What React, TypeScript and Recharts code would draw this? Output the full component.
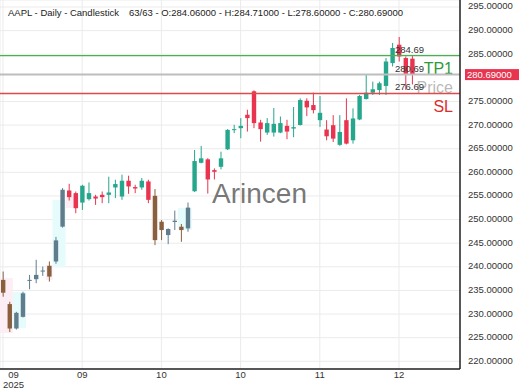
import { ComposedChart, Bar, XAxis, YAxis, CartesianGrid, ReferenceLine, ReferenceArea } from 'recharts';

const opens = [
  237.23, 232.11, 226.94, 229.41, 237.02, 237.38, 239.0, 240.21, 241.13, 248.5,
  256.16, 255.6, 253.6, 254.32, 254.88, 255.24, 255.24, 256.8, 254.88, 258.22,
  256.88, 256.8, 258.07, 255.03, 249.55, 246.72, 249.49, 248.49, 248.14, 256.0,
  262.02, 262.75, 260.47, 261.17, 264.88, 268.93, 269.35, 272.19, 277.15, 270.55,
  268.42, 268.42, 268.42, 269.84, 269.27, 270.02, 275.15, 274.24, 271.04, 269.06,
  269.98, 265.82, 271.04, 266.78, 271.19, 275.52, 276.86, 277.43, 278.29, 283.12,
  287.02, 284.19, 284.06,
];
const highs = [
  239.0, 232.6, 230.47, 234.73, 238.29, 241.49, 240.06, 241.13, 246.33, 256.67,
  257.58, 255.94, 257.37, 257.86, 255.24, 255.94, 259.08, 258.44, 259.5, 259.29,
  257.37, 258.8, 258.44, 256.45, 249.91, 248.14, 251.9, 249.06, 253.6, 264.73,
  265.58, 263.0, 260.83, 264.37, 269.14, 270.06, 271.48, 273.25, 277.36, 271.12,
  271.48, 273.61, 271.82, 271.12, 273.83, 275.67, 275.67, 276.86, 276.16, 271.04,
  272.11, 272.11, 275.67, 273.53, 276.37, 280.63, 279.2, 279.2, 284.19, 287.39,
  288.66, 284.53, 284.71,
];
const lows = [
  233.67, 226.21, 226.72, 229.28, 235.25, 236.53, 238.08, 236.87, 240.64, 248.3,
  254.03, 251.34, 252.04, 254.03, 253.11, 253.47, 253.47, 254.54, 254.18, 255.45,
  255.6, 256.31, 253.47, 244.59, 245.65, 244.8, 247.78, 245.29, 247.42, 255.84,
  261.89, 255.5, 258.49, 260.62, 264.73, 268.29, 267.22, 268.63, 269.35, 266.5,
  267.93, 267.56, 268.29, 267.01, 267.44, 269.92, 271.89, 272.47, 269.61, 266.78,
  266.42, 265.62, 265.92, 266.08, 271.04, 275.42, 276.37, 276.37, 276.37, 282.4,
  283.46, 277.43, 278.6,
];
const closes = [
  234.52, 226.94, 230.26, 234.39, 237.23, 238.29, 239.21, 237.93, 245.6, 256.31,
  254.75, 252.41, 257.16, 255.6, 254.45, 254.75, 255.73, 257.52, 258.22, 257.01,
  256.58, 258.22, 254.18, 245.65, 247.78, 248.0, 249.76, 247.78, 252.53, 262.39,
  262.96, 258.49, 260.11, 262.96, 268.99, 269.14, 269.84, 271.48, 270.42, 269.14,
  270.42, 270.27, 270.42, 268.63, 269.57, 275.3, 273.75, 273.17, 272.6, 267.63,
  267.14, 268.55, 266.08, 271.4, 276.16, 276.86, 277.58, 278.86, 283.46, 286.32,
  284.53, 280.84, 280.69,
];

// candles drawn in the faded pattern colours
const mutedCandles = [0, 1, 2, 3, 4, 5, 6, 7, 8, 9, 23, 24, 25, 26, 27, 28];

// pattern boxes: candle index span, price span, kind
const boxFrom = [-0.45, 1.5, 6.5, 7.5, 9.5, 22.5, 26.5];
const boxTo = [1.5, 3.5, 7.5, 9.5, 11.5, 23.5, 28.6];
const boxLow = [226.0, 227.05, 237.2, 239.96, 252.45, 245.68, 247.8];
const boxHigh = [237.6, 234.67, 240.4, 254.14, 254.78, 254.78, 252.45];
const boxKind = ['bear', 'bull', 'bear', 'bull', 'bear', 'bear', 'bull'];

const xTickIndex = [0, 12, 24, 36, 48, 60];
const xTickLabels = ['09', '09', '10', '10', '11', '12'];
const yTicks = [220, 225, 230, 235, 240, 245, 250, 255, 260, 265, 270, 275, 285, 290, 295];

const tp1 = 284.69;
const lastPrice = 280.69;
const stopLoss = 276.69;

const GREEN = '#26a68c';
const RED = '#e8344f';
const SLATE = '#5f7d8d';
const BROWN = '#88603e';
const FONT = '"Liberation Sans", Arial, sans-serif';

const candles = opens.map((open, i) => ({
  idx: i,
  open,
  high: highs[i],
  low: lows[i],
  close: closes[i],
  muted: mutedCandles.includes(i),
  range: [lows[i], highs[i]],
}));

const Candle = (props: any) => {
  const { x, y, width, height, payload } = props;
  if (!payload) return null;
  const { open, close, high, low, muted } = payload;
  const top = Math.min(y, y + height);
  const h = Math.abs(height);
  const ppu = h / (high - low);
  const cx = x + width / 2;
  const bodyTop = top + (high - Math.max(open, close)) * ppu;
  const bodyBottom = top + (high - Math.min(open, close)) * ppu;
  const up = close >= open;
  const color = muted ? (up ? SLATE : BROWN) : up ? GREEN : RED;
  return (
    <g>
      <line x1={cx} x2={cx} y1={top} y2={top + h} stroke={color} strokeWidth={1} />
      <rect x={cx - 2.2} y={bodyTop} width={4.4} height={Math.max(1, bodyBottom - bodyTop)} fill={color} />
    </g>
  );
};

const XTick = (props: any) => {
  const { x, y, payload } = props;
  const i = xTickIndex.indexOf(payload.value);
  const shift = i === 0 ? 10.5 : 0;
  return (
    <g>
      <text x={x + shift} y={y + 9} textAnchor="middle" fontSize={9.5} fill="#333" fontFamily={FONT}>
        {xTickLabels[i]}
      </text>
      {i === 0 && (
        <text x={x + shift} y={y + 18.5} textAnchor="middle" fontSize={9.5} fill="#333" fontFamily={FONT}>
          2025
        </text>
      )}
    </g>
  );
};

const YTick = (props: any) => {
  const { y, payload } = props;
  return (
    <text x={468} y={y + 2.5} textAnchor="start" fontSize={9.5} fill="#333" fontFamily={FONT}>
      {Number(payload.value).toFixed(5)}
    </text>
  );
};

const levelLabel = (small: string, big: string, bigColor: string) => (props: any) => {
  const vb = props.viewBox || {};
  const right = vb.x + vb.width;
  return (
    <g fontFamily={FONT}>
      <text x={right - 65} y={vb.y - 3} fontSize={9.5} fill="#333">
        {small}
      </text>
      <text x={right - 7} y={vb.y + 18.5} fontSize={16} fill={bigColor} textAnchor="end">
        {big}
      </text>
    </g>
  );
};

const priceLabel = (props: any) => {
  const vb = props.viewBox || {};
  const right = vb.x + vb.width;
  return (
    <g fontFamily={FONT}>
      <text x={right - 65} y={vb.y - 3} fontSize={9.5} fill="#333">
        {lastPrice.toFixed(2)}
      </text>
      <text x={right - 7} y={vb.y + 18.5} fontSize={16} fill="#9a9a9a" fillOpacity={0.7} textAnchor="end">
        Price
      </text>
      <rect x={right + 5} y={vb.y - 5.5} width={54} height={11} fill={RED} />
      <text x={right + 7} y={vb.y + 3.3} fontSize={9.5} fill="#fff">
        {lastPrice.toFixed(5)}
      </text>
    </g>
  );
};

export default function App() {
  return (
    <div style={{ position: 'absolute', left: 0, top: 0, width: 520, height: 390, background: '#fff' }}>
      <ComposedChart width={520} height={390} data={candles} margin={{ top: 0, right: 0, bottom: 0, left: 0 }}>
        <CartesianGrid stroke="#ebebeb" />
        <XAxis
          dataKey="idx"
          type="number"
          domain={[-0.45, 69.24]}
          ticks={xTickIndex}
          interval={0}
          allowDataOverflow
          height={21}
          tickLine={false}
          tickSize={0}
          tickMargin={0}
          axisLine={{ stroke: '#222', strokeWidth: 1.5 }}
          tick={<XTick />}
        />
        <YAxis
          orientation="right"
          type="number"
          domain={[218.37, 296.48]}
          ticks={yTicks}
          interval={0}
          allowDataOverflow
          width={60}
          tickLine={false}
          axisLine={{ stroke: '#222', strokeWidth: 1.5 }}
          tick={<YTick />}
        />
        {boxFrom.map((from, i) => (
          <ReferenceArea
            key={i}
            x1={from}
            x2={boxTo[i]}
            y1={boxLow[i]}
            y2={boxHigh[i]}
            fill={boxKind[i] === 'bull' ? '#e6fbfb' : '#fdedf4'}
            fillOpacity={1}
            stroke="none"
            ifOverflow="hidden"
          />
        ))}
        <ReferenceLine y={tp1} stroke="#4caf50" strokeWidth={1.3} label={levelLabel(tp1.toFixed(2), 'TP1', '#2f9a3a')} />
        <ReferenceLine y={lastPrice} stroke="#bdbdbd" strokeWidth={2} label={priceLabel} />
        <ReferenceLine y={stopLoss} stroke="#e04a4a" strokeWidth={1.3} label={levelLabel(stopLoss.toFixed(2), 'SL', '#e02b2b')} />
        <Bar dataKey="range" barSize={5} shape={<Candle />} isAnimationActive={false} />
      </ComposedChart>
      <svg width={520} height={390} style={{ position: 'absolute', left: 0, top: 0, pointerEvents: 'none' }}>
        <text x={8} y={16} fontSize={9.5} fill="#222" fontFamily={FONT}>
          AAPL - Daily - Candlestick
        </text>
        <text x={129} y={16} fontSize={9.5} fill="#222" fontFamily={FONT}>
          63/63 - O:284.06000 - H:284.71000 - L:278.60000 - C:280.69000
        </text>
        <text x={259.5} y={203} fontSize={28} fill="#666" fillOpacity={0.9} textAnchor="middle" fontFamily={FONT}>
          Arincen
        </text>
      </svg>
    </div>
  );
}
